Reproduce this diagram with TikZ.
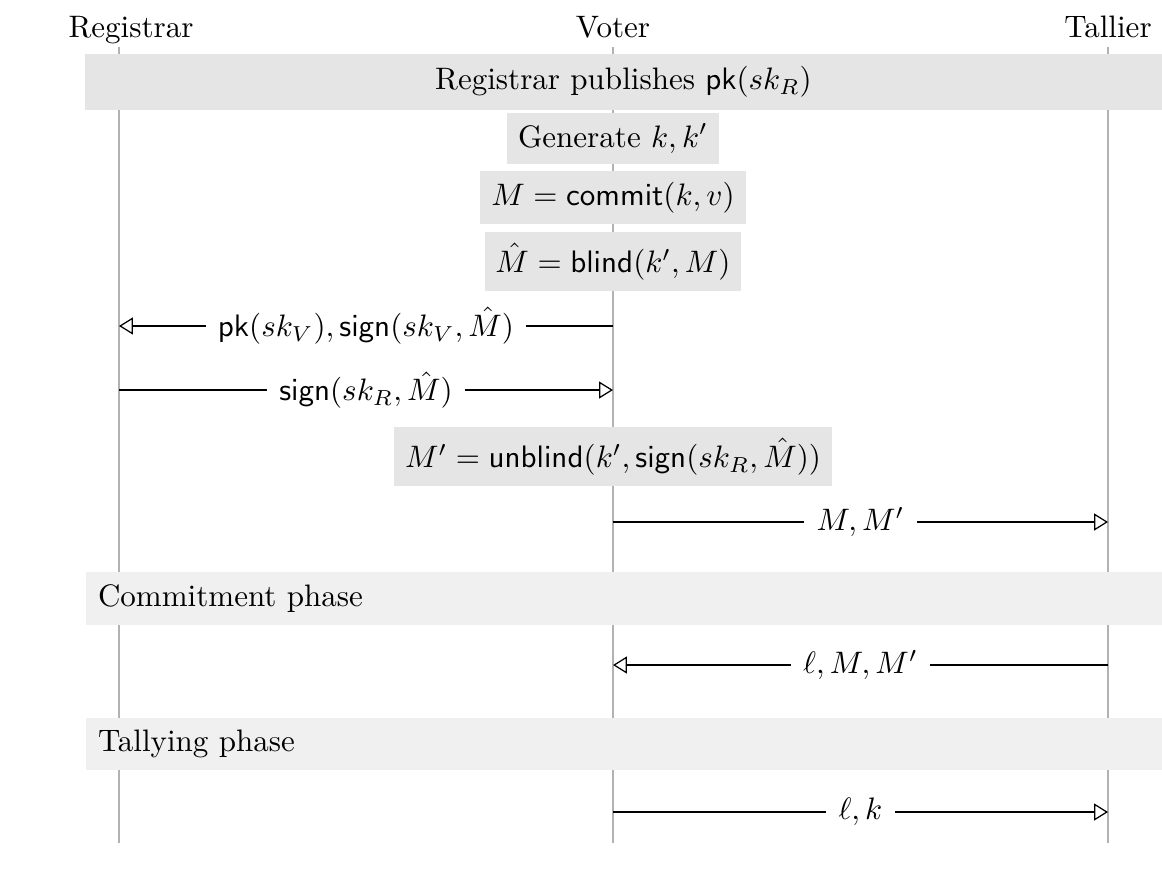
\documentclass[tikz,border=0pt]{standalone}
\usepackage{amsmath,amssymb}
\usetikzlibrary{arrows.meta}

\tikzset{
  actor/.style={anchor=base, inner sep=0pt},
  lifeline/.style={draw=black!30, line width=0.7pt},
  banner/.style={fill=black!10, inner sep=4pt, minimum width=12.19cm, minimum height=0.54cm},
  phase/.style={fill=black!6, inner sep=4pt, text width=12.19cm-8pt, align=left, minimum height=0.49cm, anchor=west},
  action/.style={fill=black!10, inner sep=3.5pt},
  msg/.style={-{Triangle[open,length=4.5pt,width=5.5pt]}, line width=0.4pt},
  msglabel/.style={fill=white, inner sep=4pt}
}

\begin{document}
\begin{tikzpicture}
  \useasboundingbox (0,0) rectangle (13.154,-9.89);

  % participants
  \node[actor] (reg) at (1.483,-0.43) {Registrar};
  \node[actor] (vot) at (6.939,-0.43) {Voter};
  \node[actor] (tal) at (12.543,-0.43) {Tallier};

  \coordinate (regtop) at (1.347,-0.532);
  \coordinate (regbot) at (1.347,-9.543);
  \coordinate (vottop) at (6.939,-0.532);
  \coordinate (votbot) at (6.939,-9.543);
  \coordinate (taltop) at (12.543,-0.532);
  \coordinate (talbot) at (12.543,-9.543);
  \draw[lifeline] (regtop) -- (regbot);
  \draw[lifeline] (vottop) -- (votbot);
  \draw[lifeline] (taltop) -- (talbot);

  \node[banner] (pub) at (7.058,-0.928) {Registrar publishes $\mathsf{pk}(sk_R)$};

  % voter side
  \node[action] (gen) at (6.939,-1.568) {Generate $k, k'$};
  \node[action] (com) at (6.939,-2.236) {$M = \mathsf{commit}(k, v)$};
  \node[action] (bli) at (6.939,-2.960) {$\hat{M} = \mathsf{blind}(k', M)$};

  \coordinate (v1) at (6.939,-3.690);
  \coordinate (r1) at (1.347,-3.690);
  \draw[msg] (v1) -- node[msglabel] {$\mathsf{pk}(sk_V), \mathsf{sign}(sk_V, \hat{M})$} (r1);

  \coordinate (r2) at (1.347,-4.415);
  \coordinate (v2) at (6.939,-4.415);
  \draw[msg] (r2) -- node[msglabel] {$\mathsf{sign}(sk_R, \hat{M})$} (v2);

  \node[action] (unb) at (6.939,-5.168) {$M' = \mathsf{unblind}(k', \mathsf{sign}(sk_R, \hat{M}))$};

  \coordinate (v3) at (6.939,-5.909);
  \coordinate (t3) at (12.543,-5.909);
  \draw[msg] (v3) -- node[msglabel] {$M, M'$} (t3);

  \node[phase] (cph) at (0.962,-6.775) {Commitment phase};

  \coordinate (t4) at (12.543,-7.528);
  \coordinate (v4) at (6.939,-7.528);
  \draw[msg] (t4) -- node[msglabel] {$\ell, M, M'$} (v4);

  \node[phase] (tph) at (0.962,-8.422) {Tallying phase};

  \coordinate (v5) at (6.939,-9.192);
  \coordinate (t5) at (12.543,-9.192);
  \draw[msg] (v5) -- node[msglabel] {$\ell, k$} (t5);
\end{tikzpicture}
\end{document}
